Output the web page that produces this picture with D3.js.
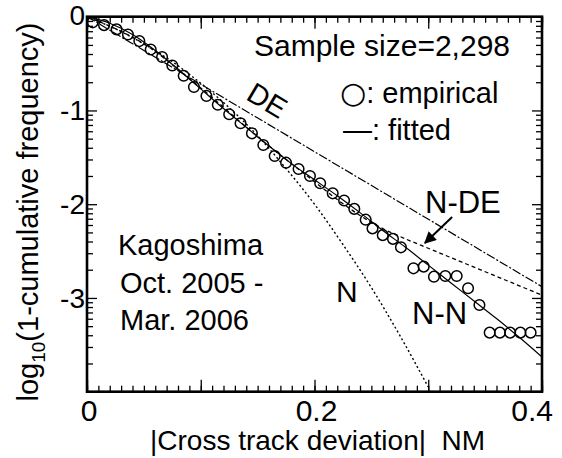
<!DOCTYPE html>
<html>
<head>
<meta charset="utf-8">
<script src="https://cdn.jsdelivr.net/npm/d3@7"></script>
<style>
  body { margin: 0; background: #fff; }
  svg { display: block; font-family: "Liberation Sans", Arial, sans-serif; }
  text { white-space: pre; }
</style>
</head>
<body>
<svg id="chart"></svg>
<script>
const width = 562;
const height = 458;

// axis ticks
const xTicks = [0, 0.2, 0.4];
const xTickLabels = ["0", "0.2", "0.4"];
const yTicks = [0, -1, -2, -3];
const yTickLabels = ["0", "-1", "-2", "-3"];

// empirical points
const empX = [0.005, 0.015, 0.026, 0.036, 0.046, 0.056, 0.066, 0.075, 0.085, 0.094,
  0.105, 0.115, 0.125, 0.135, 0.145, 0.155, 0.165, 0.175, 0.186, 0.196,
  0.205, 0.216, 0.226, 0.235, 0.245, 0.251, 0.260, 0.269, 0.276, 0.287,
  0.296, 0.305, 0.315, 0.325, 0.335, 0.345, 0.354, 0.363, 0.372, 0.381, 0.390];
const empY = [-0.06, -0.09, -0.135, -0.19, -0.26, -0.35, -0.43, -0.52, -0.63, -0.75,
  -0.845, -0.94, -1.04, -1.137, -1.244, -1.369, -1.486, -1.557, -1.625, -1.699,
  -1.777, -1.884, -1.96, -2.05, -2.165, -2.258, -2.33, -2.37, -2.46, -2.684,
  -2.666, -2.773, -2.766, -2.766, -2.897, -3.075, -3.37, -3.37, -3.37, -3.37, -3.37];

// fitted N-N (solid)
const nnX = [0, 0.02, 0.04, 0.06, 0.08, 0.1, 0.12, 0.14, 0.16, 0.18, 0.2,
  0.22, 0.24, 0.26, 0.28, 0.3, 0.32, 0.34, 0.36, 0.38, 0.4];
const nnY = [0, -0.07, -0.19, -0.36, -0.56, -0.77, -0.98, -1.18, -1.38, -1.57, -1.74,
  -1.91, -2.09, -2.28, -2.46, -2.65, -2.84, -3.03, -3.22, -3.42, -3.63];

// fitted DE (dash-dot)
const deX = [0, 0.4];
const deY = [0, -2.88];

// fitted N-DE (dashed)
const ndX = [0, 0.05, 0.1, 0.15, 0.2, 0.22, 0.24, 0.26, 0.28, 0.3, 0.33, 0.36, 0.4];
const ndY = [0, -0.29, -0.76, -1.28, -1.76, -1.95, -2.12, -2.26, -2.37, -2.47, -2.62, -2.77, -2.97];

// fitted N (dotted)
const nX = [0, 0.025, 0.05, 0.075, 0.1, 0.125, 0.15, 0.175, 0.2, 0.225, 0.25, 0.275, 0.3];
const nY = [0, -0.13, -0.29, -0.48, -0.71, -0.97, -1.27, -1.62, -2.0, -2.43, -2.89, -3.4, -3.95];

const plotL = 87, plotR = 542, plotT = 16.7, plotB = 391.7;

const svg = d3.select("#chart").attr("width", width).attr("height", height);

const x = d3.scaleLinear().domain([0, 0.4]).range([plotL, plotR]);
const y = d3.scaleLinear().domain([-4, 0]).range([plotB, plotT]);

// tick values
const xMinor = d3.range(0, 41).map((i) => i / 100);
const xMajor = [0, 0.1, 0.2, 0.3, 0.4];
const yMinor = [];
[0, -1, -2, -3].forEach((d) => {
  [2, 3, 4, 5, 6, 7, 8, 9].forEach((k) => yMinor.push(d - 1 + Math.log10(k)));
});

svg.append("defs").append("clipPath").attr("id", "clip")
  .append("rect")
  .attr("x", plotL).attr("y", plotT)
  .attr("width", plotR - plotL).attr("height", plotB - plotT);

function tickAxis(axis, pos, vals, size) {
  const g = svg.append("g")
    .attr("transform", pos)
    .call(axis.tickValues(vals).tickSize(-size).tickFormat(""));
  g.select(".domain").remove();
  g.selectAll("line").attr("stroke", "#000").attr("stroke-width", 1.3);
  return g;
}

tickAxis(d3.axisBottom(x), `translate(0,${plotB})`, xMinor, 6);
tickAxis(d3.axisBottom(x), `translate(0,${plotB})`, xMajor, 12);
tickAxis(d3.axisTop(x), `translate(0,${plotT})`, xMinor, 6);
tickAxis(d3.axisTop(x), `translate(0,${plotT})`, xMajor, 12);
tickAxis(d3.axisLeft(y), `translate(${plotL},0)`, yMinor, 6);
tickAxis(d3.axisLeft(y), `translate(${plotL},0)`, yTicks, 10);
tickAxis(d3.axisRight(y), `translate(${plotR},0)`, yMinor, 6);
tickAxis(d3.axisRight(y), `translate(${plotR},0)`, yTicks, 10);

// frame
svg.append("rect")
  .attr("x", plotL).attr("y", plotT)
  .attr("width", plotR - plotL).attr("height", plotB - plotT)
  .attr("fill", "none").attr("stroke", "#000").attr("stroke-width", 2.6);

// tick labels
svg.append("g").selectAll("text")
  .data(xTicks)
  .join("text")
  .attr("x", (d, i) => (i === xTicks.length - 1 ? x(d) + 11 : x(d) + 2))
  .attr("y", 421)
  .attr("text-anchor", (d, i) => (i === xTicks.length - 1 ? "end" : "middle"))
  .attr("font-size", 30)
  .text((d, i) => xTickLabels[i]);

svg.append("g").selectAll("text")
  .data(yTicks)
  .join("text")
  .attr("x", plotL - 2)
  .attr("y", (d) => (d === 0 ? y(d) + 8 : y(d) + 10))
  .attr("text-anchor", "end")
  .attr("font-size", 28)
  .text((d, i) => yTickLabels[i]);

// axis titles
svg.append("text")
  .attr("x", 150).attr("y", 450)
  .attr("font-size", 28)
  .text("|Cross track deviation|  NM");

const yTitle = svg.append("text")
  .attr("transform", "translate(38,212) rotate(-90)")
  .attr("text-anchor", "middle")
  .attr("font-size", 29);
yTitle.append("tspan").text("log");
yTitle.append("tspan").attr("font-size", 19).attr("dy", 7).text("10");
yTitle.append("tspan").attr("dy", -7).text("(1-cumulative frequency)");

// fitted lines
const plot = svg.append("g").attr("clip-path", "url(#clip)");
const line = d3.line()
  .x((d) => x(d[0]))
  .y((d) => y(d[1]))
  .curve(d3.curveMonotoneX);

const fits = [
  { xs: nnX, ys: nnY, dash: null, w: 1.2 },
  { xs: deX, ys: deY, dash: "9,2,2,2", w: 1.2 },
  { xs: ndX, ys: ndY, dash: "4,3", w: 1.3 },
  { xs: nX, ys: nY, dash: "2,2.5", w: 1.4 },
];
fits.forEach((f) => {
  plot.append("path")
    .datum(d3.zip(f.xs, f.ys))
    .attr("fill", "none")
    .attr("stroke", "#000")
    .attr("stroke-width", f.w)
    .attr("stroke-dasharray", f.dash)
    .attr("d", line);
});

// empirical circles
plot.append("g").selectAll("circle")
  .data(d3.zip(empX, empY))
  .join("circle")
  .attr("cx", (d) => x(d[0]))
  .attr("cy", (d) => y(d[1]))
  .attr("r", 5.3)
  .attr("fill", "none")
  .attr("stroke", "#000")
  .attr("stroke-width", 1.5);

// annotations
const notes = [
  { t: "Sample size=2,298", x: 254, y: 56, s: 30 },
  { t: "—: fitted", x: 343, y: 140, s: 29 },
  { t: "N-DE", x: 425, y: 213, s: 31 },
  { t: "N", x: 336, y: 302, s: 30 },
  { t: "N-N", x: 412, y: 324, s: 31 },
  { t: "Kagoshima", x: 118, y: 255, s: 29 },
  { t: "Oct. 2005 -", x: 120, y: 293, s: 29 },
  { t: "Mar. 2006", x: 120, y: 330, s: 29 },
];
svg.append("g").selectAll("text")
  .data(notes)
  .join("text")
  .attr("x", (d) => d.x)
  .attr("y", (d) => d.y)
  .attr("font-size", (d) => d.s)
  .text((d) => d.t);

const empLabel = svg.append("text")
  .attr("x", 340).attr("y", 103)
  .attr("font-size", 29);
empLabel.append("tspan")
  .attr("font-family", "DejaVu Sans")
  .attr("font-size", 30)
  .text("○");
empLabel.append("tspan").text(": empirical");

svg.append("text")
  .attr("transform", "translate(262,109) rotate(31)")
  .attr("text-anchor", "middle")
  .attr("font-size", 29)
  .text("DE");

// arrow to N-DE curve
const arrowFrom = [0.321, -2.137];
const arrowTo = [0.2971, -2.414];
svg.append("defs").append("marker")
  .attr("id", "head")
  .attr("viewBox", "0 0 10 10")
  .attr("refX", 9).attr("refY", 5)
  .attr("markerWidth", 6).attr("markerHeight", 6)
  .attr("orient", "auto")
  .append("path")
  .attr("d", "M0,0L10,5L0,10z")
  .attr("fill", "#000");
svg.append("line")
  .attr("x1", x(arrowFrom[0])).attr("y1", y(arrowFrom[1]))
  .attr("x2", x(arrowTo[0])).attr("y2", y(arrowTo[1]))
  .attr("stroke", "#000").attr("stroke-width", 2)
  .attr("marker-end", "url(#head)");
</script>
</body>
</html>
